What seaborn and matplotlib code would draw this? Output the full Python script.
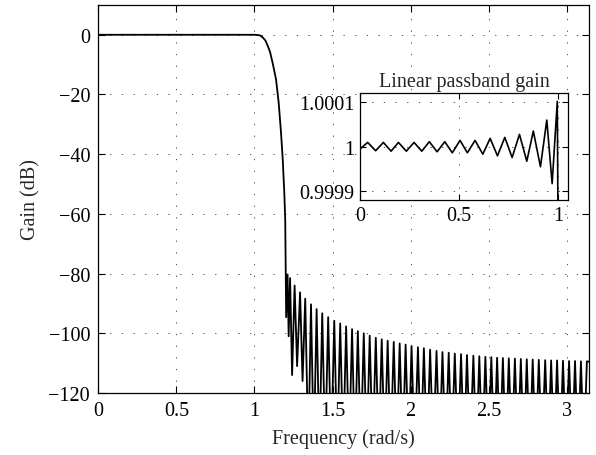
import numpy as np
import pandas as pd
import matplotlib
matplotlib.use("Agg")
import matplotlib.pyplot as plt
import seaborn as sns

# ---------------- data ----------------
# passband + transition band (rad/s, dB)
trans_f = [0.0, 1.0, 1.021, 1.036, 1.053, 1.070, 1.085, 1.100, 1.117, 1.138,
           1.155, 1.170, 1.181, 1.191, 1.197, 1.203]
trans_db = [0.0, 0.0, -0.1, -0.2, -0.9, -1.9, -3.7, -5.8, -9.6, -14.9,
            -22.7, -32.8, -41.7, -52.9, -62.0, -94.6]

# stop-band lobe peaks (rad/s, dB)
peak_f = [1.212, 1.228, 1.257, 1.292, 1.325, 1.362, 1.398, 1.434, 1.472, 1.511,
          1.549, 1.587, 1.625, 1.662, 1.700, 1.738, 1.777, 1.815, 1.853, 1.892,
          1.930, 1.968, 2.006, 2.047, 2.085, 2.125, 2.166, 2.204, 2.244, 2.283,
          2.323, 2.361, 2.402, 2.440, 2.479, 2.517, 2.554, 2.591, 2.629, 2.668,
          2.706, 2.744, 2.782, 2.821, 2.862, 2.900, 2.938, 2.976, 3.015, 3.053,
          3.091, 3.129]
peak_db = [-80.3, -81.5, -84.0, -86.3, -88.4, -90.3, -91.9, -93.3, -94.6, -95.8,
           -96.7, -97.7, -98.6, -99.3, -100.0, -100.8, -101.5, -102.0, -102.5, -102.9,
           -103.4, -103.8, -104.3, -104.7, -105.0, -105.5, -105.9, -106.3, -106.5, -106.8,
           -107.0, -107.3, -107.5, -107.7, -107.9, -108.0, -108.2, -108.3, -108.4, -108.5,
           -108.6, -108.7, -108.8, -108.9, -109.0, -109.1, -109.1, -109.2, -109.3, -109.3,
           -109.4, -109.4]

# stop-band nulls following each peak (rad/s, dB); deep nulls fall below the axis
null_f = [1.219, 1.241, 1.273, 1.308, 1.345, 1.380, 1.416, 1.453, 1.491, 1.530,
          1.568, 1.606, 1.643, 1.681, 1.719, 1.757, 1.796, 1.834, 1.872, 1.911,
          1.949, 1.987, 2.026, 2.066, 2.105, 2.145, 2.185, 2.224, 2.263, 2.303,
          2.342, 2.381, 2.421, 2.459, 2.498, 2.535, 2.572, 2.610, 2.648, 2.687,
          2.725, 2.763, 2.801, 2.841, 2.881, 2.919, 2.957, 2.995, 3.034, 3.072,
          3.110, 3.1416]
null_db = [-101.0, -114.0, -111.0, -116.0] + [-140.0] * (len(null_f) - 5) + [-109.5]

# inset: linear passband gain extrema (rad/s, gain)
inset_f = [0.0, 0.039, 0.079, 0.118, 0.157, 0.194, 0.234, 0.273, 0.312, 0.350,
           0.389, 0.428, 0.466, 0.505, 0.542, 0.581, 0.620, 0.657, 0.694, 0.731,
           0.768, 0.805, 0.842, 0.875, 0.911, 0.943, 0.970, 0.996, 1.000, 1.010]
inset_g = [0.999995, 1.0000097, 0.999991, 1.0000097, 0.999990, 1.0000097, 0.999990,
           1.0000097, 0.999990, 1.0000113, 0.9999887, 1.0000113, 0.9999864, 1.0000143,
           0.9999864, 1.0000143, 0.9999833, 1.0000188, 0.9999796, 1.000021, 0.9999758,
           1.0000278, 0.9999674, 1.0000353, 0.999955, 1.00006, 0.999917, 1.000102,
           0.9998, 0.995]

xticks_main = [0, 0.5, 1, 1.5, 2, 2.5, 3]
xticklabels_main = ["0", "0.5", "1", "1.5", "2", "2.5", "3"]
yticks_main = [0, -20, -40, -60, -80, -100, -120]
yticklabels_main = ["0", "\u221220", "\u221240", "\u221260", "\u221280", "\u2212100", "\u2212120"]
xticks_in = [0, 0.5, 1]
xticklabels_in = ["0", "0.5", "1"]
yticks_in = [0.9999, 1.0, 1.0001]
yticklabels_in = ["0.9999", "1", "1.0001"]

# ---------------- assemble ----------------
stop_f = np.ravel(np.column_stack([peak_f, null_f]))
stop_db = np.ravel(np.column_stack([peak_db, null_db]))
main_df = pd.DataFrame({"f": np.concatenate([trans_f, stop_f]),
                        "db": np.concatenate([trans_db, stop_db])})
inset_df = pd.DataFrame({"f": inset_f, "g": inset_g})

sns.set_style("ticks")
plt.rcParams["font.family"] = ["Liberation Serif", "DejaVu Serif"]
FS = 14.5
plt.rcParams["font.size"] = FS
plt.rcParams["axes.unicode_minus"] = True

fig = plt.figure(figsize=(5.96, 4.56), dpi=100)
ax = fig.add_axes([0.165, 0.136, 0.823, 0.851])

sns.lineplot(data=main_df, x="f", y="db", ax=ax, color="black", linewidth=1.3,
             estimator=None, sort=False)
for ln in ax.get_lines():
    ln.set_solid_joinstyle("round")
ax.set_xlim(0, np.pi)
ax.set_ylim(-120, 10)
ax.set_xticks(xticks_main)
ax.set_xticklabels(xticklabels_main)
ax.set_yticks(yticks_main)
ax.set_yticklabels(yticklabels_main)
ax.set_xlabel("Frequency (rad/s)", labelpad=6)
ax.set_ylabel("Gain (dB)", labelpad=6)
ax.grid(True, color="#333333", linestyle=(0, (1.5, 12.5)), linewidth=0.6)
ax.tick_params(direction="in", length=5, width=0.8, top=True, right=True,
               colors="black", pad=6, labelsize=FS)
for s in ax.spines.values():
    s.set_linewidth(0.9)
    s.set_color("black")

axi = fig.add_axes([0.604, 0.559, 0.349, 0.234])
axi.set_facecolor("white")
sns.lineplot(data=inset_df, x="f", y="g", ax=axi, color="black", linewidth=1.2,
             estimator=None, sort=False)
for ln in axi.get_lines():
    ln.set_solid_joinstyle("round")
axi.set_xlim(0, 1.05)
axi.set_ylim(0.99988, 1.00012)
axi.set_xticks(xticks_in)
axi.set_xticklabels(xticklabels_in)
axi.set_yticks(yticks_in)
axi.set_yticklabels(yticklabels_in)
axi.set_xlabel("")
axi.set_ylabel("")
axi.set_title("Linear passband gain", fontsize=FS, pad=5)
axi.grid(True, color="#333333", linestyle=(0, (1.5, 12.5)), linewidth=0.6)
axi.tick_params(direction="in", length=4, width=0.8, top=True, right=True,
                colors="black", pad=4, labelsize=FS)
for s in axi.spines.values():
    s.set_linewidth(0.9)
    s.set_color("black")

fig.savefig("out.png", dpi=100)
